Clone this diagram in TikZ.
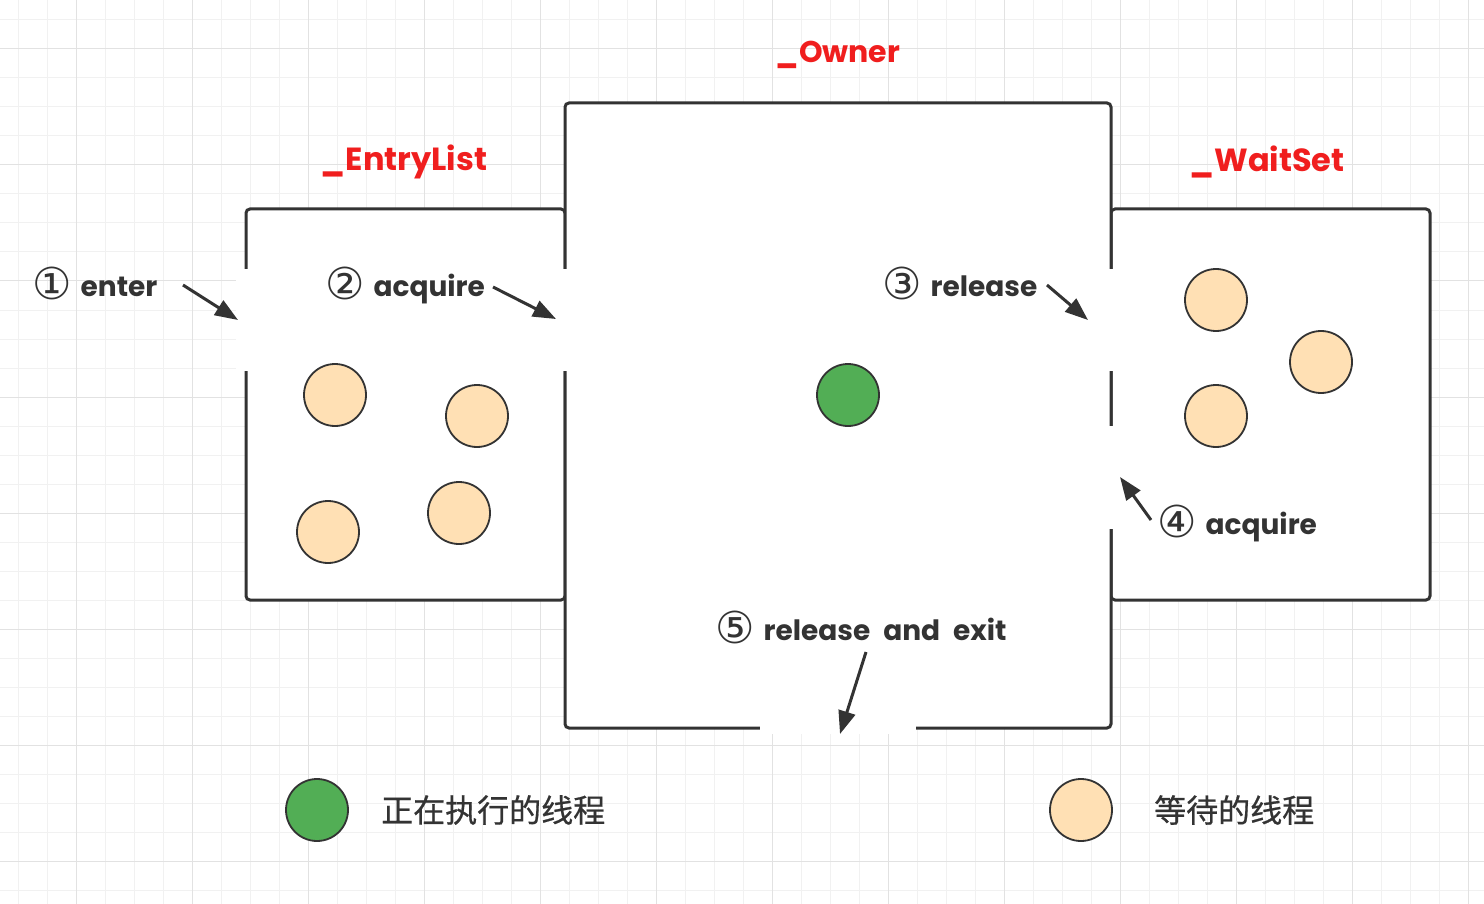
\documentclass[tikz,border=0pt]{standalone}
\usepackage{fontspec}
\setmainfont{Poppins}
\newfontfamily\cjk{Noto Sans CJK SC}[FakeBold=0.6]
\newfontfamily\sym{DejaVu Sans}
\usetikzlibrary{arrows.meta}
\definecolor{ink}{HTML}{333333}
\definecolor{peach}{HTML}{FFE0B4}
\definecolor{runGreen}{HTML}{52AE55}
\definecolor{gridMinor}{HTML}{F1F1F1}
\definecolor{gridMajor}{HTML}{E2E2E2}
\definecolor{lblRed}{HTML}{F01E1E}
\newcommand{\circnum}[1]{\raisebox{-3pt}{\sym\mdseries\fontsize{44}{44}\selectfont #1}\hspace{9pt}}
\newcommand{\wsp}{\hspace{13pt}}
\tikzset{
  minorline/.style={draw=gridMinor, line width=1pt},
  majorline/.style={draw=gridMajor, line width=1pt},
  room/.style={draw=ink, fill=white, line width=3pt, rounded corners=4pt},
  gapbox/.style={fill=white, draw=none},
  thread/.style={circle, draw=ink, line width=1.8pt, minimum size=62pt, inner sep=0pt},
  waiting/.style={thread, fill=peach},
  running/.style={thread, fill=runGreen},
  steplabel/.style={text=ink, font=\fontsize{28}{34}\selectfont\bfseries, inner sep=0pt, anchor=base west},
  roomlabel/.style={text=lblRed, font=\fontsize{32}{36}\selectfont\bfseries, inner sep=0pt},
  legendtext/.style={text=ink, font=\cjk\fontsize{32}{36}\selectfont, inner sep=0pt, anchor=west},
  arr/.style={draw=ink, line width=3pt, -{Triangle[length=23pt, width=17pt]}}
}
\begin{document}
\begin{tikzpicture}[x=1pt, y=-1pt]
\useasboundingbox (0,0) rectangle (1484,904);
\fill[white] (0,0) rectangle (1484,904);
% grid
\foreach \i in {0,...,51} \draw[minorline] ({18.7+29*\i},0) -- ++(0,904);
\foreach \i in {0,...,31} \draw[minorline] (0,{20+29*\i}) -- ++(1484,0);
\foreach \i in {0,...,12} \draw[majorline] ({76.7+116*\i},0) -- ++(0,904);
\foreach \i in {0,...,7} \draw[majorline] (0,{49+116*\i}) -- ++(1484,0);
% rooms
\draw[room] (246,209) rectangle (565,600);
\draw[room] (1111,209) rectangle (1430,600);
\draw[room] (565,103) rectangle (1111,728);
% openings
\fill[gapbox] (236,269) rectangle (257,371);
\fill[gapbox] (554,269) rectangle (576,371);
\fill[gapbox] (1100,269) rectangle (1122,371);
\fill[gapbox] (1100,426) rectangle (1122,529);
\fill[gapbox] (760,714) rectangle (916,734);
% room labels
\node[roomlabel] (entryLbl) at (404,162) {\_EntryList};
\node[roomlabel, font=\fontsize{30}{36}\selectfont\bfseries] (ownerLbl) at (838,55) {\_Owner};
\node[roomlabel] (waitLbl) at (1267,162) {\_WaitSet};
% threads
\node[waiting] (e1) at (335,395) {};
\node[waiting] (e2) at (477,416) {};
\node[waiting] (e3) at (328,532) {};
\node[waiting] (e4) at (459,513) {};
\node[running] (o1) at (848,395) {};
\node[waiting] (w1) at (1216,300) {};
\node[waiting] (w2) at (1321,362) {};
\node[waiting] (w3) at (1216,416) {};
% step labels
\node[steplabel] (s1) at (32,296) {\circnum{①}enter};
\node[steplabel] (s2) at (325,296) {\circnum{②}acquire};
\node[steplabel] (s3) at (882,296) {\circnum{③}release};
\node[steplabel] (s4) at (1157,534) {\circnum{④}acquire};
\node[steplabel] (s5) at (715,640) {\circnum{⑤}release\wsp and\wsp exit};
% arrow ends
\coordinate (a1s) at (183,285); \coordinate (a1e) at (238,320);
\coordinate (a2s) at (493,287); \coordinate (a2e) at (556,319);
\coordinate (a3s) at (1047,285); \coordinate (a3e) at (1088,320);
\coordinate (a4s) at (1151,520); \coordinate (a4e) at (1120,477);
\coordinate (a5s) at (866,652); \coordinate (a5e) at (840,734);
\draw[arr] (a1s) -- (a1e);
\draw[arr] (a2s) -- (a2e);
\draw[arr] (a3s) -- (a3e);
\draw[arr] (a4s) -- (a4e);
\draw[arr] (a5s) -- (a5e);
% legend
\node[running] (legRun) at (317,810) {};
\node[legendtext] (legRunTxt) at (381,810) {正在执行的线程};
\node[waiting] (legWait) at (1081,810) {};
\node[legendtext] (legWaitTxt) at (1154,810) {等待的线程};
\end{tikzpicture}
\end{document}
